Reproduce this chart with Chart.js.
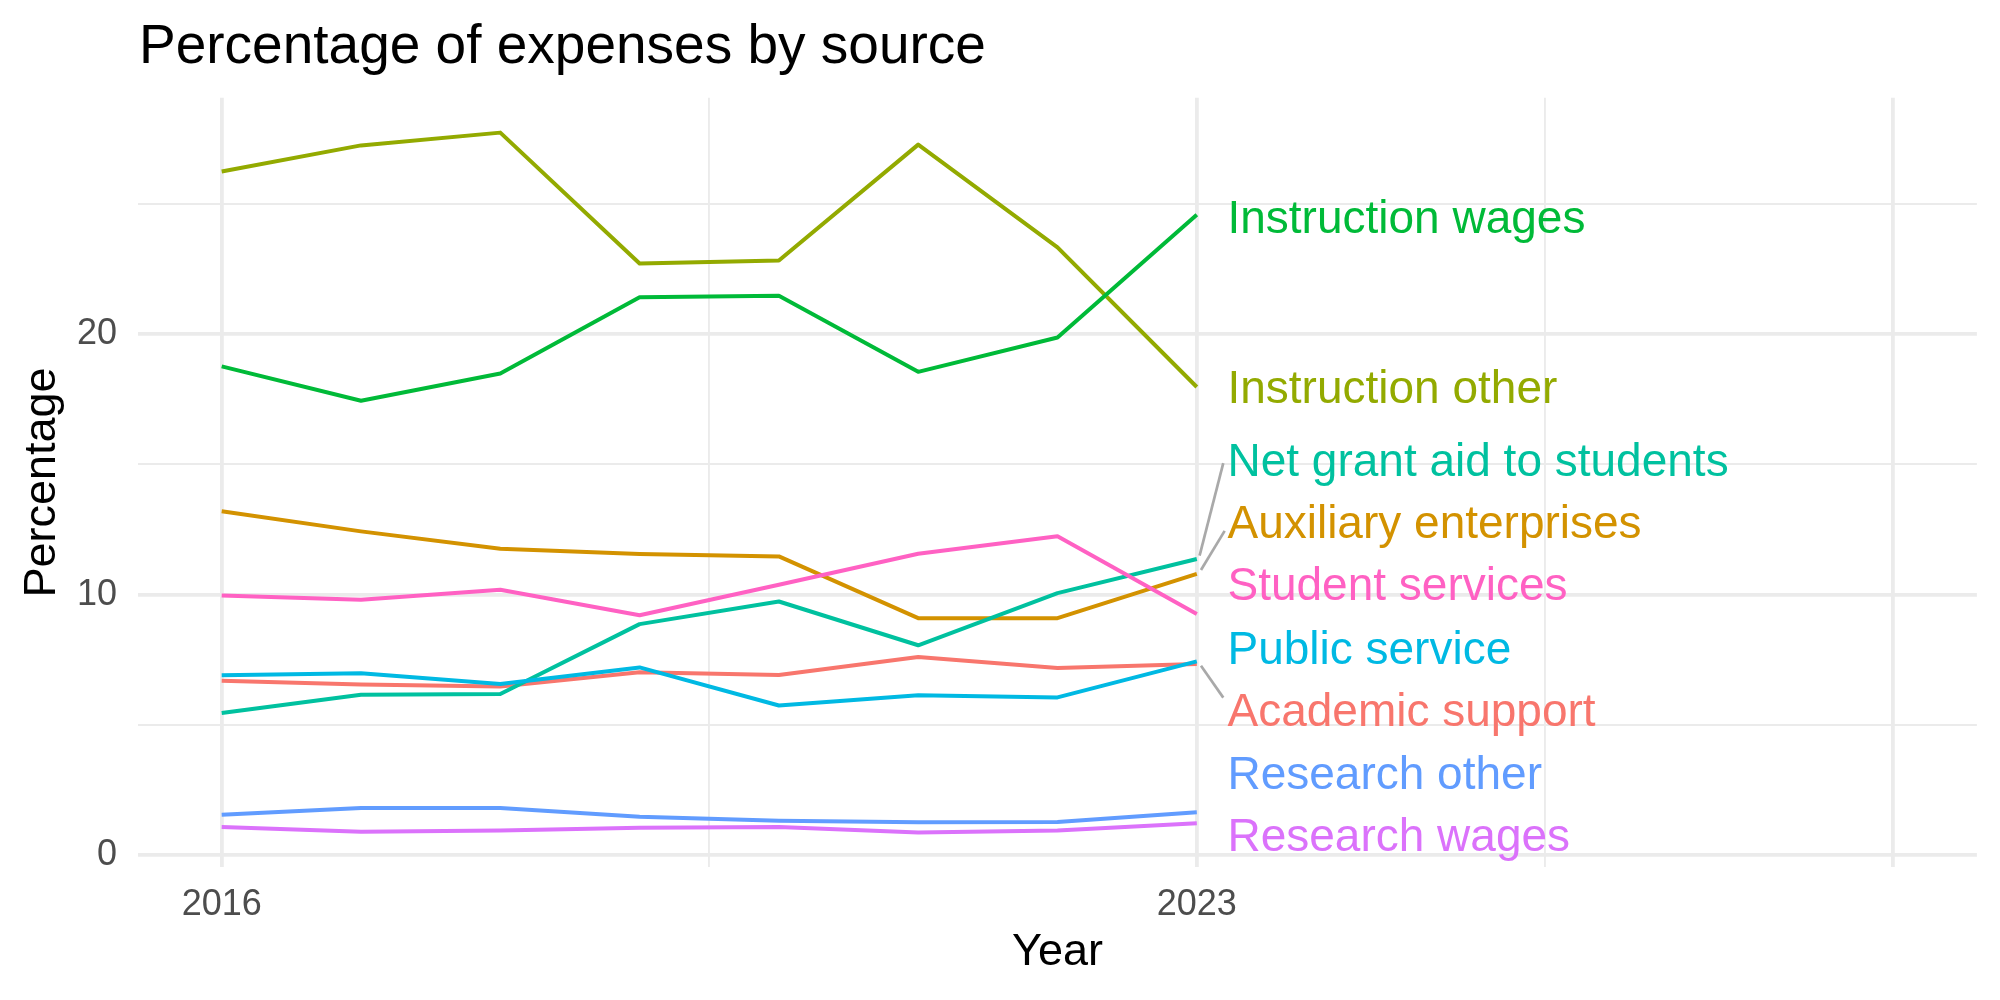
<!DOCTYPE html>
<html>
<head>
<meta charset="utf-8">
<script src="https://cdn.jsdelivr.net/npm/chart.js@4.4.1/dist/chart.umd.min.js"></script>
<style>
  html, body { margin: 0; padding: 0; background: #ffffff; }
  #wrap { width: 2000px; height: 1000px; }
</style>
</head>
<body>
<div id="wrap"><canvas id="c" width="2000" height="1000"></canvas></div>
<script>
// ---- data ----
const years = [2016, 2017, 2018, 2019, 2020, 2021, 2022, 2023];
const seriesNames = ["Academic support", "Auxiliary enterprises", "Instruction other", "Instruction wages",
  "Net grant aid to students", "Public service", "Research other", "Research wages", "Student services"];
const seriesColors = ["#F8766D", "#D39200", "#93AA00", "#00BA38", "#00C19F", "#00B9E3", "#619CFF", "#DB72FB", "#FF61C3"];

const academicSupport      = [6.70, 6.55, 6.48, 7.02, 6.92, 7.61, 7.19, 7.34];
const auxiliaryEnterprises = [13.20, 12.43, 11.76, 11.56, 11.47, 9.10, 9.10, 10.80];
const instructionOther     = [26.24, 27.24, 27.73, 22.71, 22.82, 27.27, 23.33, 17.97];
const instructionWages     = [18.76, 17.44, 18.49, 21.41, 21.47, 18.55, 19.87, 24.58];
const netGrantAid          = [5.46, 6.16, 6.19, 8.87, 9.74, 8.06, 10.06, 11.37];
const publicService        = [6.91, 6.99, 6.57, 7.21, 5.75, 6.14, 6.06, 7.44];
const researchOther        = [1.56, 1.82, 1.82, 1.48, 1.33, 1.27, 1.28, 1.65];
const researchWages        = [1.09, 0.90, 0.95, 1.06, 1.09, 0.88, 0.95, 1.23];
const studentServices      = [9.97, 9.81, 10.19, 9.21, 10.38, 11.57, 12.24, 9.26];

const seriesValues = [academicSupport, auxiliaryEnterprises, instructionOther, instructionWages,
  netGrantAid, publicService, researchOther, researchWages, studentServices];

// end-of-line label positions (data units)
const labelX = 2023.22;
const labelY = [5.44, 12.66, 17.84, 24.37, 15.05, 7.84, 3.03, 0.64, 10.27];

// leader segments from line ends to repelled labels
const leaderNet = [{x: 2023.02, y: 11.50}, {x: 2023.19, y: 15.05}];
const leaderAux = [{x: 2023.03, y: 10.95}, {x: 2023.20, y: 12.45}];
const leaderAcad = [{x: 2023.03, y: 7.27}, {x: 2023.19, y: 6.05}];

// axis breaks
const xBreaks = [2016, 2019.5, 2023, 2025.5, 2028];
const xMajor = [2016, 2023, 2028];
const xLabelled = [2016, 2023];
const yBreaks = [0, 5, 10, 15, 20, 25];
const yMajor = [0, 10, 20];

const FONT = '"Liberation Sans", Arial, Helvetica, sans-serif';

const datasets = seriesNames.map((name, i) => ({
  label: name,
  data: years.map((yr, j) => ({x: yr, y: seriesValues[i][j]})),
  borderColor: seriesColors[i],
  backgroundColor: seriesColors[i],
  borderWidth: 4,
  pointRadius: 0,
  tension: 0,
  fill: false,
  borderJoinStyle: 'round',
  borderCapStyle: 'butt',
  order: seriesNames.length - i
}));
[leaderNet, leaderAux, leaderAcad].forEach((seg, k) => {
  datasets.push({
    label: 'leader' + k,
    data: seg,
    borderColor: '#A9A9A9',
    borderWidth: 2.7,
    pointRadius: 0,
    fill: false,
    order: -1
  });
});

const textPlugin = {
  id: 'textPlugin',
  afterDatasetsDraw(chart) {
    const ctx = chart.ctx;
    const xs = chart.scales.x, ys = chart.scales.y;
    ctx.save();
    ctx.font = '46px ' + FONT;
    ctx.textAlign = 'left';
    ctx.textBaseline = 'middle';
    seriesNames.forEach((name, i) => {
      ctx.fillStyle = seriesColors[i];
      ctx.fillText(name, xs.getPixelForValue(labelX), ys.getPixelForValue(labelY[i]));
    });
    ctx.restore();
  },
  afterDraw(chart) {
    const ctx = chart.ctx;
    ctx.save();
    ctx.font = '55px ' + FONT;
    ctx.fillStyle = '#000000';
    ctx.textAlign = 'left';
    ctx.textBaseline = 'alphabetic';
    ctx.fillText('Percentage of expenses by source', 139, 63);
    ctx.restore();
  }
};

new Chart(document.getElementById('c'), {
  type: 'line',
  data: { datasets },
  options: {
    responsive: false,
    animation: false,
    devicePixelRatio: 1,
    layout: { padding: { left: 0, top: 97.7, right: 23.1, bottom: 0 } },
    plugins: { legend: { display: false }, tooltip: { enabled: false }, title: { display: false } },
    scales: {
      x: {
        type: 'linear',
        min: 2015.4,
        max: 2028.6,
        afterBuildTicks: (axis) => { axis.ticks = xBreaks.map(v => ({value: v})); },
        afterFit: (axis) => { axis.height = 132.7; },
        border: { display: false },
        grid: {
          color: '#EBEBEB',
          lineWidth: (c) => (c.tick && xMajor.includes(c.tick.value)) ? 3.8 : 1.9,
          drawTicks: false
        },
        ticks: {
          autoSkip: false,
          maxRotation: 0,
          padding: 16.5,
          color: '#4D4D4D',
          font: { size: 36, family: FONT },
          callback: (v) => xLabelled.includes(v) ? String(v) : ''
        },
        title: {
          display: true,
          text: 'Year',
          color: '#000000',
          font: { size: 45, family: FONT },
          padding: { top: 0, bottom: 20 }
        }
      },
      y: {
        type: 'linear',
        min: -0.46,
        max: 29.07,
        afterBuildTicks: (axis) => { axis.ticks = yBreaks.map(v => ({value: v})); },
        afterFit: (axis) => { axis.width = 138.1; },
        border: { display: false },
        grid: {
          color: '#EBEBEB',
          lineWidth: (c) => (c.tick && yMajor.includes(c.tick.value)) ? 3.8 : 1.9,
          drawTicks: false
        },
        ticks: {
          autoSkip: false,
          padding: 21,
          color: '#4D4D4D',
          font: { size: 36, family: FONT },
          callback: (v) => yMajor.includes(v) ? String(v) : ''
        },
        title: {
          display: true,
          text: 'Percentage',
          color: '#000000',
          font: { size: 45, family: FONT },
          padding: { top: 15.5, bottom: 0 }
        }
      }
    }
  },
  plugins: [textPlugin]
});
</script>
</body>
</html>
